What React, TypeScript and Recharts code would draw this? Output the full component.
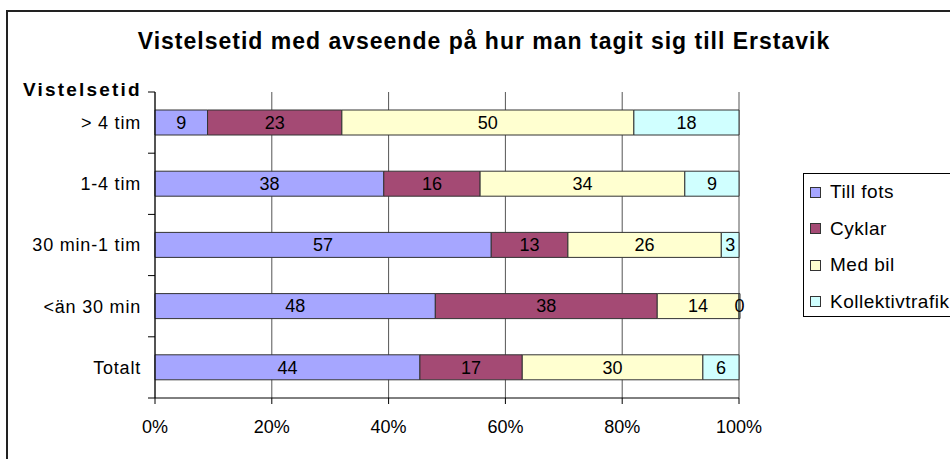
import { BarChart, Bar, XAxis, YAxis, CartesianGrid, LabelList } from 'recharts'

const categories = ['> 4 tim', '1-4 tim', '30 min-1 tim', '<än 30 min', 'Totalt']
const tillFots = [9, 38, 57, 48, 44]
const cyklar = [23, 16, 13, 38, 17]
const medBil = [50, 34, 26, 14, 30]
const kollektivtrafik = [18, 9, 3, 0, 6]
const xTicks = [0, 0.2, 0.4, 0.6, 0.8, 1]

const series = [
  { key: 'tillFots', name: 'Till fots', color: '#a6a6ff' },
  { key: 'cyklar', name: 'Cyklar', color: '#a44a74' },
  { key: 'medBil', name: 'Med bil', color: '#ffffd0' },
  { key: 'kollektivtrafik', name: 'Kollektivtrafik', color: '#d0ffff' },
]

const data = categories.map((name, i) => ({
  name,
  tillFots: tillFots[i],
  cyklar: cyklar[i],
  medBil: medBil[i],
  kollektivtrafik: kollektivtrafik[i],
}))

const FONT = '"Liberation Sans", Arial, sans-serif'
const TOP = 92
const BOTTOM = 398
const LEFT = 155
const BAND = (BOTTOM - TOP) / categories.length

const CategoryTick = ({ x, y, payload, index }: any) => (
  <g>
    <line x1={LEFT - 7} x2={LEFT} y1={y - BAND / 2} y2={y - BAND / 2} stroke="#000" />
    {index === categories.length - 1 && (
      <line x1={LEFT - 7} x2={LEFT} y1={y + BAND / 2} y2={y + BAND / 2} stroke="#000" />
    )}
    <text
      x={x}
      y={y}
      dy="0.35em"
      textAnchor="end"
      fontSize={18}
      letterSpacing={0.8}
      fill="#000"
      fontFamily={FONT}
    >
      {payload.value}
    </text>
  </g>
)

const BarLabel = ({ x, y, width, height, value }: any) => (
  <text
    x={x + width / 2}
    y={y + height / 2}
    dy="0.35em"
    textAnchor="middle"
    fontSize={18}
    fill="#000"
    fontFamily={FONT}
  >
    {value}
  </text>
)

const LegendBox = () => (
  <div
    style={{
      position: 'absolute',
      left: 803,
      top: 173,
      border: '1px solid #000',
      width: 200,
      height: 144,
      boxSizing: 'border-box',
      fontSize: 19,
      letterSpacing: 0.5,
      background: '#fff',
    }}
  >
    {series.map((s) => (
      <div key={s.key} style={{ display: 'flex', alignItems: 'center', height: 36.5 }}>
        <div
          style={{
            width: 9,
            height: 9,
            marginLeft: 6,
            marginRight: 9,
            background: s.color,
            border: '1px solid #333',
          }}
        />
        <span style={{ whiteSpace: 'nowrap' }}>{s.name}</span>
      </div>
    ))}
  </div>
)

export default function App() {
  return (
    <div
      style={{
        position: 'fixed',
        left: 0,
        top: 0,
        width: 950,
        height: 459,
        background: '#fff',
        overflow: 'hidden',
        fontFamily: FONT,
      }}
    >
      <div
        style={{
          position: 'absolute',
          left: 6,
          top: 10,
          width: 1000,
          height: 500,
          border: '2px solid #222',
        }}
      />
      <div
        style={{
          position: 'absolute',
          left: 0,
          width: 968,
          top: 28,
          textAlign: 'center',
          fontWeight: 'bold',
          fontSize: 23,
          letterSpacing: 1,
        }}
      >
        Vistelsetid med avseende på hur man tagit sig till Erstavik
      </div>
      <div
        style={{
          position: 'absolute',
          left: 23,
          top: 79,
          fontWeight: 'bold',
          fontSize: 19,
          letterSpacing: 2.2,
        }}
      >
        Vistelsetid
      </div>
      <div style={{ position: 'absolute', left: 0, top: 0 }}>
        <BarChart
          width={950}
          height={459}
          data={data}
          layout="vertical"
          stackOffset="expand"
          margin={{ top: TOP, bottom: 0, left: 0, right: 950 - 739 }}
        >
          <CartesianGrid horizontal={false} stroke="#555" />
          <XAxis
            type="number"
            domain={[0, 1]}
            ticks={xTicks}
            tickFormatter={(v) => `${Math.round(v * 100)}%`}
            axisLine={{ stroke: '#000' }}
            tickLine={{ stroke: '#000' }}
            tickSize={6}
            tickMargin={16}
            tick={{ fontSize: 18, fill: '#000', fontFamily: FONT }}
            height={459 - BOTTOM}
          />
          <XAxis
            xAxisId="top"
            orientation="top"
            type="number"
            domain={[0, 1]}
            tick={false}
            tickLine={false}
            axisLine={{ stroke: '#999' }}
            height={0}
          />
          <YAxis
            type="category"
            dataKey="name"
            width={LEFT}
            axisLine={{ stroke: '#000' }}
            tickLine={false}
            tickMargin={8}
            tick={<CategoryTick />}
          />
          {series.map((s) => (
            <Bar
              key={s.key}
              dataKey={s.key}
              name={s.name}
              stackId="a"
              fill={s.color}
              stroke="#333"
              strokeWidth={1}
              barSize={25}
              minPointSize={s.key === 'kollektivtrafik' ? 1 : 0}
              isAnimationActive={false}
            >
              <LabelList dataKey={s.key} content={<BarLabel />} />
            </Bar>
          ))}
        </BarChart>
      </div>
      <LegendBox />
    </div>
  )
}
